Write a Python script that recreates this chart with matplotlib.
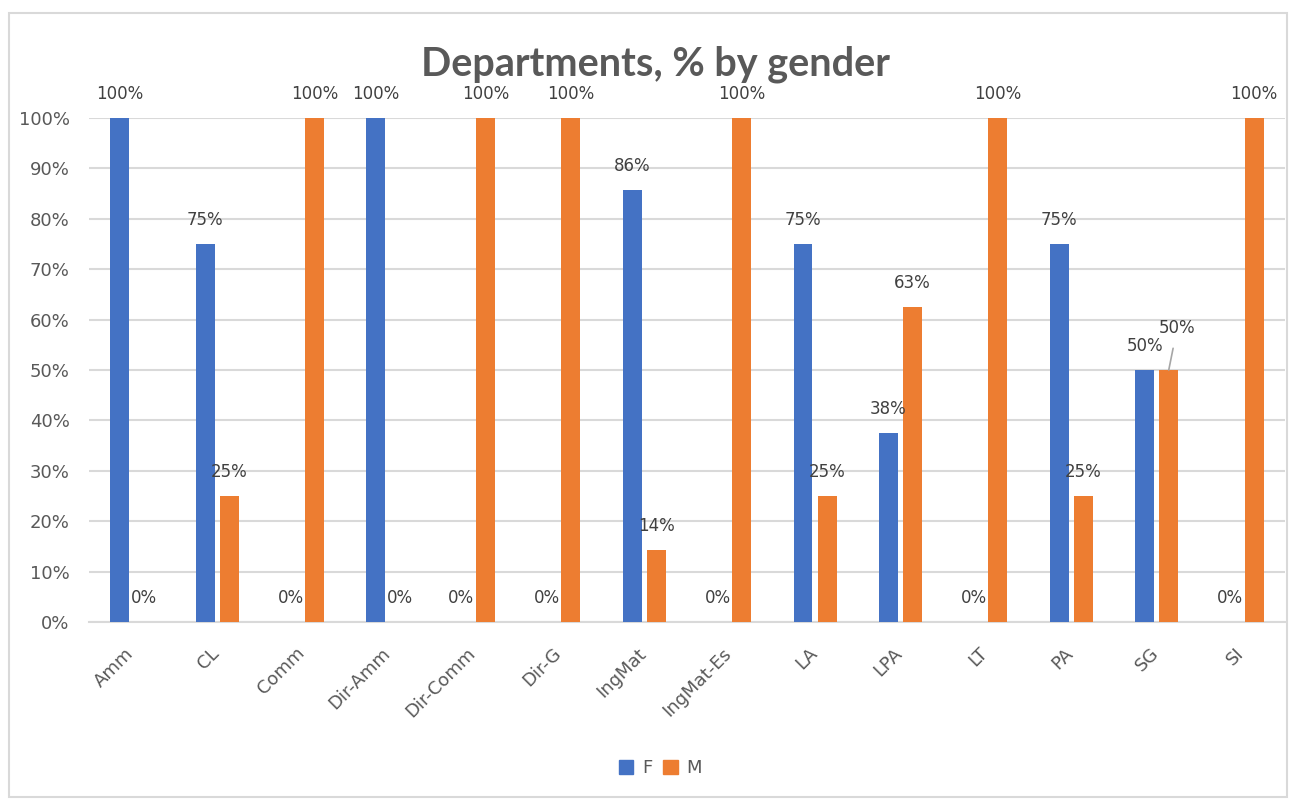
import matplotlib.pyplot as plt
import matplotlib.patches as mpatches
import matplotlib.transforms as mtransforms
from matplotlib.ticker import FuncFormatter
import numpy as np

departments = ["Amm", "CL", "Comm", "Dir-Amm", "Dir-Comm", "Dir-G", "IngMat",
               "IngMat-Es", "LA", "LPA", "LT", "PA", "SG", "SI"]
female_pct = [100, 75, 0, 100, 0, 0, 85.7, 0, 75, 37.5, 0, 75, 50, 0]
male_pct = [0, 25, 100, 0, 100, 100, 14.3, 100, 25, 62.5, 100, 25, 50, 100]

blue = "#4472C4"
orange = "#ED7D31"
grey_text = "#595959"
label_text = "#404040"


def pct(v):
    # round half up, like the spreadsheet does
    return f"{int(np.floor(v + 0.5))}%"


fig = plt.figure(figsize=(12.9, 8), dpi=100)
ax = fig.add_axes([0.069, 0.2225, 0.927, 0.63])

# chart frame
fig.patches.append(mpatches.Rectangle((0.007, 0.004), 0.991, 0.98, transform=fig.transFigure,
                                      fill=False, edgecolor="#D9D9D9", linewidth=1.5))

x = np.arange(len(departments))
w = 0.222
off = 0.141
bars_f = ax.bar(x - off, female_pct, w, color=blue, label="F", zorder=3)
bars_m = ax.bar(x + off, male_pct, w, color=orange, label="M", zorder=3)

ax.set_xlim(-0.5, len(departments) - 0.5)
ax.set_ylim(0, 100)
ax.set_yticks(np.arange(0, 101, 10))
ax.yaxis.set_major_formatter(FuncFormatter(lambda v, p: f"{v:.0f}%"))
ax.grid(axis="y", color="#D9D9D9", linewidth=1.5, zorder=0)
ax.set_axisbelow(True)
for s in ["top", "right", "left"]:
    ax.spines[s].set_visible(False)
ax.spines["bottom"].set_color("#D9D9D9")
ax.spines["bottom"].set_linewidth(1.5)
ax.tick_params(axis="both", length=0, labelsize=13, colors=grey_text)
ax.tick_params(axis="y", pad=14)
ax.set_xticks(x)
ax.set_xticklabels(departments, rotation=45, ha="right", rotation_mode="anchor")
ax.tick_params(axis="x", pad=16)
shift = mtransforms.ScaledTranslation(-7 / 100, 0, fig.dpi_scale_trans)
for lbl in ax.get_xticklabels():
    lbl.set_transform(lbl.get_transform() + shift)

# data labels
for bars, vals, series in [(bars_f, female_pct, "F"), (bars_m, male_pct, "M")]:
    for i, (b, v) in enumerate(zip(bars, vals)):
        cx = b.get_x() + b.get_width() / 2
        if series == "M" and departments[i] == "SG":
            ax.annotate(pct(v), xy=(cx, v), xytext=(6, 30), textcoords="offset points",
                        ha="center", va="center", fontsize=12, color=label_text,
                        annotation_clip=False,
                        arrowprops=dict(arrowstyle="-", color="#A6A6A6", lw=1.2,
                                        shrinkA=6, shrinkB=0))
        else:
            ax.annotate(pct(v), xy=(cx, v), xytext=(0, 17), textcoords="offset points",
                        ha="center", va="center", fontsize=12, color=label_text,
                        annotation_clip=False)

fig.text(0.508, 0.92, "Departments, % by gender", ha="center", va="center",
         fontsize=28.5, fontweight="bold", family="Lato", color=grey_text)

handles = [mpatches.Patch(color=blue, label="F"), mpatches.Patch(color=orange, label="M")]
fig.legend(handles=handles, loc="center", bbox_to_anchor=(0.512, 0.04), ncol=2,
           frameon=False, fontsize=13, handlelength=0.8, handleheight=0.8,
           handletextpad=0.5, columnspacing=0.6, labelcolor=grey_text)

fig.savefig("out.png", dpi=100)
